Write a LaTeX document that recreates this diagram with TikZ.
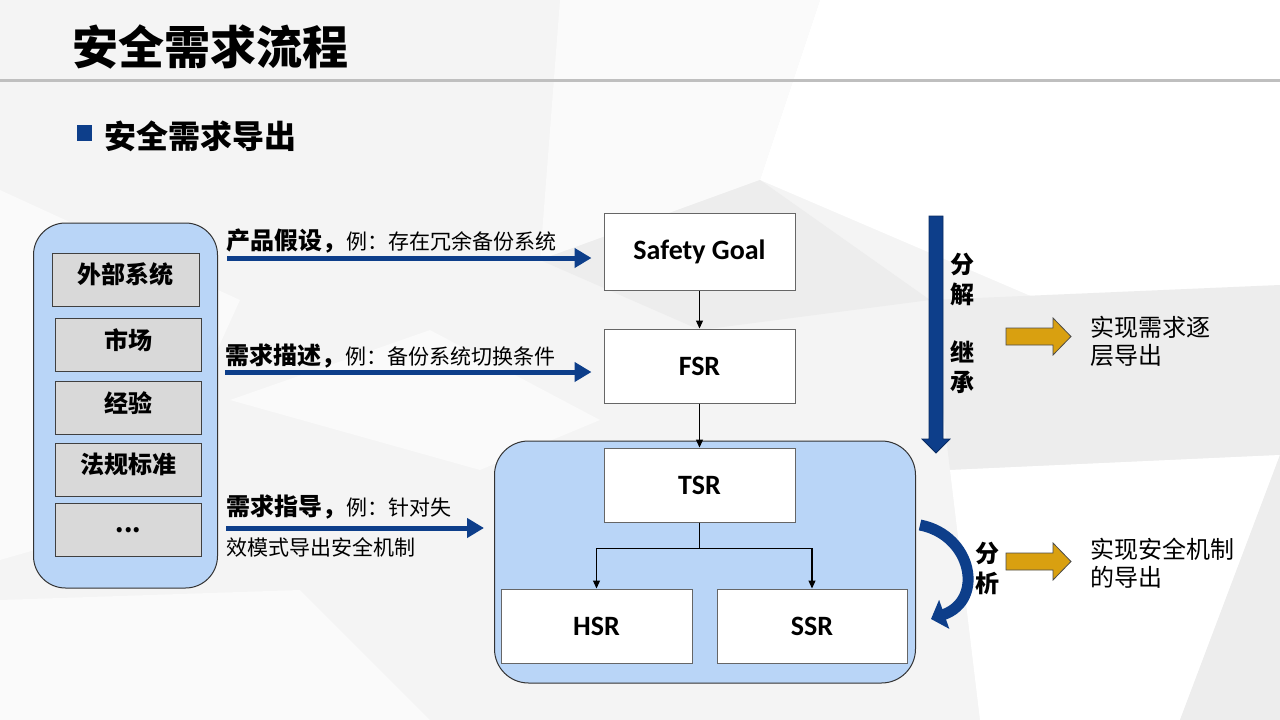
\documentclass[tikz,border=0pt]{standalone}
\usepackage{fontspec}
\setmainfont{Noto Sans CJK SC}
\newfontfamily\latf{Carlito}
\usetikzlibrary{arrows.meta}
\definecolor{dblue}{HTML}{0D3E8A}
\definecolor{lblue}{HTML}{B9D5F7}
\definecolor{gbox}{HTML}{D9D9D9}
\definecolor{goldc}{HTML}{D9A010}
\definecolor{bgbase}{HTML}{F4F4F4}
\definecolor{bgdark}{HTML}{EDEDED}
\definecolor{bglight}{HTML}{FAFAFA}
\newcommand{\bl}[1]{{\fontsize{24}{24}\selectfont\bfseries #1}}
\tikzset{
  graybox/.style={draw=black!75, fill=gbox, line width=1pt, minimum width=146pt, minimum height=53pt, inner sep=0pt, text height=14pt, text depth=6pt, font=\fontsize{24}{24}\selectfont\bfseries},
  whitebox/.style={draw=black!60, fill=white, line width=1pt, minimum width=191pt, minimum height=74pt, inner sep=0pt, font=\latf\fontsize{28}{28}\selectfont\bfseries},
  groupbox/.style={draw=black!80, fill=lblue, line width=1pt, rounded corners=32pt, inner sep=0pt},
  bluearrow/.style={draw=dblue, line width=5pt, -{Triangle[length=17pt,width=19pt]}},
  thinarrow/.style={draw=black, line width=1.2pt, -{Triangle[length=8pt,width=7pt]}},
  lbl/.style={anchor=west, inner sep=0pt, font=\fontsize{21}{21}\selectfont},
  goldarrow/.style={fill=goldc, draw=black!70, line width=0.8pt},
  vtext/.style={align=center, inner sep=0pt, font=\fontsize{24}{30}\selectfont\bfseries},
  rtext/.style={anchor=west, align=left, inner sep=0pt, font=\fontsize{24}{28}\selectfont},
}
\begin{document}
\begin{tikzpicture}[x=1pt,y=-1pt]
\useasboundingbox (0,0) rectangle (1280,720);
% background
\fill[bgbase] (0,0) rectangle (1280,720);
\fill[bglight] (560,0) -- (820,0) -- (760,180) -- (540,260) -- cycle;
\fill[white] (820,0) -- (1280,0) -- (1280,290) -- (1040,300) -- (760,180) -- cycle;
\fill[bglight] (0,190) -- (240,300) -- (140,520) -- (0,560) -- cycle;
\fill[bgdark] (540,260) -- (760,180) -- (930,300) -- (700,330) -- cycle;
\fill[bgdark] (930,300) -- (1280,285) -- (1280,455) -- (950,470) -- cycle;
\fill[white] (950,470) -- (1280,455) -- (1180,720) -- (980,720) -- cycle;
\fill[bgdark] (1180,720) -- (1280,455) -- (1280,720) -- cycle;
\fill[bglight] (0,600) -- (300,590) -- (430,720) -- (0,720) -- cycle;
\fill[bglight] (230,400) -- (430,330) -- (600,420) -- (480,470) -- cycle;

% title
\node[anchor=west, inner sep=0pt, font=\fontsize{46}{46}\selectfont\bfseries] (title) at (72,47) {安全需求流程};
\draw[line width=3pt, draw=black!25] (0,80) -- (1280,80);
\fill[dblue] (77,125) rectangle (92,141);
\node[anchor=west, inner sep=0pt, font=\fontsize{32}{32}\selectfont\bfseries] (sub) at (104,136) {安全需求导出};

% left group
\node[groupbox, minimum width=184pt, minimum height=365pt] (lb) at (125.5,405.5) {};
\node[graybox, minimum width=147pt] (b1) at (125.5,279.5) {外部系统};
\node[graybox] (b2) at (128.5,345) {市场};
\node[graybox] (b3) at (128.5,408) {经验};
\node[graybox] (b4) at (128.5,469.5) {法规标准};
\node[graybox, text height=10pt, text depth=6pt] (b5) at (128.5,530) {...};

% right chain
\node[whitebox, minimum height=77pt] (sg) at (699.5,251.5) {Safety Goal};
\node[whitebox] (fsr) at (699.5,366) {FSR};
\node[groupbox, rounded corners=34pt, minimum width=421pt, minimum height=242pt] (rb) at (705,562) {};
\node[whitebox] (tsr) at (699.5,485) {TSR};
\node[whitebox, minimum width=191pt] (hsr) at (596.5,626) {HSR};
\node[whitebox, minimum width=190pt] (ssr) at (812,626) {SSR};

\draw[thinarrow] (sg.south) -- (fsr.north);
\draw[thinarrow] (fsr.south) -- (tsr.north);
\draw[thinarrow] (tsr.south) -- ++(0,26) -| (hsr.north);
\draw[thinarrow] (tsr.south) -- ++(0,26) -| (ssr.north);

% input arrows with labels
\coordinate (a1) at (227,258);
\coordinate (a2) at (225,372);
\coordinate (a3) at (226,528);
\coordinate (a3e) at (484,528);
\draw[bluearrow] (a1) -- ([xshift=-12pt]a1 -| sg.west);
\draw[bluearrow] (a2) -- ([xshift=-12pt]a2 -| fsr.west);
\draw[bluearrow] (a3) -- (a3e);
\node[lbl] (l1) at (226,241) {\bl{产品假设，}例：存在冗余备份系统};
\node[lbl] (l2) at (225,356) {\bl{需求描述，}例：备份系统切换条件};
\node[lbl] (l3) at (226,507) {\bl{需求指导，}例：针对失};
\node[lbl] (l4) at (226,547) {效模式导出安全机制};

% big down arrow
\filldraw[fill=dblue, draw=dblue!70!black, line width=0.8pt] (929,216) -- (943,216) -- (943,439) -- (950,439) -- (936,453) -- (922,439) -- (929,439) -- cycle;
\node[vtext] (v1) at (962,280) {分\\解};
\node[vtext] (v2) at (962,367) {继\\承};

% curved arrow
\draw[draw=dblue, line width=11pt, -{Triangle[length=14pt,width=30pt]}] (920,525) .. controls (972,535) and (985,600) .. (931,619);
\node[vtext] (v3) at (987,568) {分\\析};

% gold arrows
\filldraw[goldarrow] (1006,328) -- (1053,328) -- (1053,318) -- (1071,336.5) -- (1053,355) -- (1053,345) -- (1006,345) -- cycle;
\filldraw[goldarrow] (1006,553) -- (1053,553) -- (1053,543) -- (1071,561.5) -- (1053,580) -- (1053,570) -- (1006,570) -- cycle;
\node[rtext] (r1) at (1090,341) {实现需求逐\\层导出};
\node[rtext] (r2) at (1090,563) {实现安全机制\\的导出};
\end{tikzpicture}
\end{document}
